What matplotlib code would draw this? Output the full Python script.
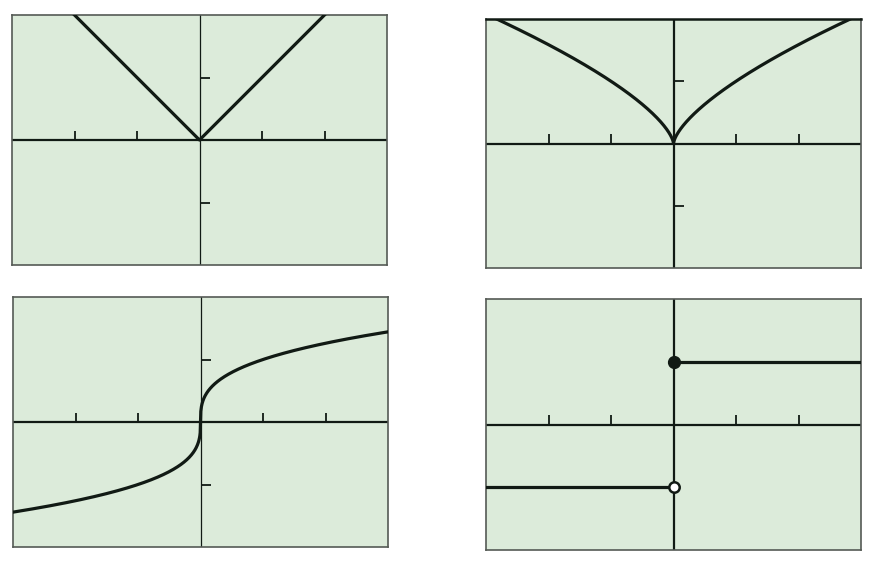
import numpy as np
import matplotlib
matplotlib.use("Agg")
import matplotlib.pyplot as plt

# Window settings (same for all four panels)
x_range = [-3, 3]
y_range = [-2, 2]
x_ticks = [-2, -1, 1, 2]
y_ticks = [-1, 1]

# Panel functions
abs_x = np.linspace(-3, 3, 601)
abs_y = np.abs(abs_x)

pow_x = np.linspace(-3, 3, 1201)
pow_y = np.abs(pow_x) ** (2.0 / 3.0)

cbrt_x = np.linspace(-3, 3, 1201)
cbrt_y = np.cbrt(cbrt_x)

step_left_x = [-3, 0]
step_left_y = [-1, -1]
step_right_x = [0, 3]
step_right_y = [1, 1]
closed_pt = (0, 1)
open_pt = (0, -1)

BG = "#dcebda"
INK = "#111a14"
EDGE = "#555a55"

fig = plt.figure(figsize=(8.88, 5.63), dpi=100)
W, H = 888, 563


def make_ax(left, top, right, bottom, yaxis_lw, show_yticks=True):
    ax = fig.add_axes([left / W, 1 - bottom / H, (right - left) / W, (bottom - top) / H])
    ax.set_facecolor(BG)
    ax.set_xlim(x_range)
    ax.set_ylim(y_range)
    ax.set_xticks([])
    ax.set_yticks([])
    for s in ax.spines.values():
        s.set_color(EDGE)
        s.set_linewidth(1.2)
    # axes through origin
    ax.axhline(0, color=INK, lw=1.6, zorder=2)
    ax.axvline(0, color=INK, lw=yaxis_lw, zorder=2)
    # tick marks
    for t in x_ticks:
        ax.plot([t, t], [0, 0.15], color=INK, lw=1.3, zorder=2, solid_capstyle="butt")
    if show_yticks:
        for t in y_ticks:
            ax.plot([0, 0.16], [t, t], color=INK, lw=1.3, zorder=2, solid_capstyle="butt")
    return ax


ax1 = make_ax(12, 15, 387, 265, 0.9)
ax1.plot(abs_x, abs_y, color=INK, lw=2.3, zorder=3)

ax2 = make_ax(486, 19, 861, 268, 1.6)
ax2.spines["top"].set_color(INK)
ax2.spines["top"].set_linewidth(1.8)
ax2.plot(pow_x, pow_y, color=INK, lw=2.3, zorder=3)

ax3 = make_ax(13, 297, 388, 547, 0.9)
ax3.plot(cbrt_x, cbrt_y, color=INK, lw=2.3, zorder=3)

ax4 = make_ax(486, 299, 861, 550, 1.6, show_yticks=False)
ax4.plot(step_left_x, step_left_y, color=INK, lw=2.3, zorder=3)
ax4.plot(step_right_x, step_right_y, color=INK, lw=2.3, zorder=3)
ax4.plot(*closed_pt, marker="o", ms=8.5, color=INK, zorder=4)
ax4.plot(*open_pt, marker="o", ms=7.5, markerfacecolor="white",
         markeredgecolor=INK, markeredgewidth=1.8, zorder=4)

fig.savefig("out.png", dpi=100, facecolor="white")
